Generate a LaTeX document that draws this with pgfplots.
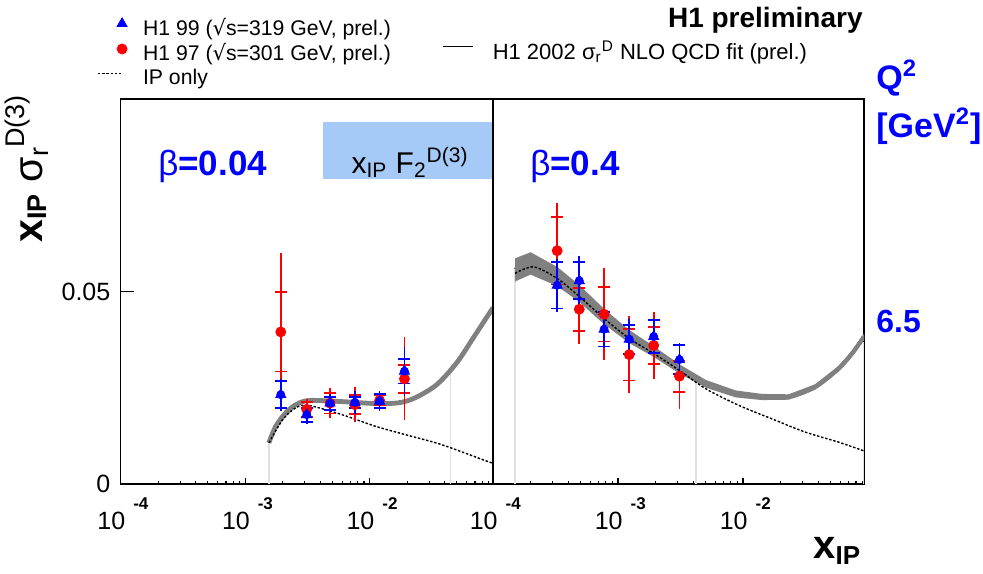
\documentclass[border=0pt]{standalone}
\usepackage{fontspec}
\setmainfont{Liberation Sans}
\newfontfamily\dejavu{DejaVu Sans}
\usepackage{pgfplots}
\pgfplotsset{compat=1.18}
\definecolor{boxblue}{RGB}{166,202,247}
\definecolor{bandgray}{RGB}{128,128,128}
\definecolor{lgray}{RGB}{225,225,225}

\newcommand{\lab}[1]{\llap{10}\hspace{4pt}\raisebox{10pt}{\fontsize{8.5}{9}\selectfont\bfseries #1}}
\newcommand{\tickfont}{\fontsize{12.5}{14}\selectfont}

\begin{document}
\begin{tikzpicture}
\path[use as bounding box] (0,0) rectangle (491.5pt,-286.5pt);

% ---------------- left panel: beta = 0.04
\begin{axis}[
  scale only axis, anchor=south west,
  at={(60.35pt,-242pt)}, width=186.15pt, height=192.5pt,
  xmode=log, xmin=1e-4, xmax=0.0977, ymin=0, ymax=0.1,
  axis line style={line width=0.75pt},
  tick align=inside, xtick pos=bottom, ytick pos=left,
  major tick length=3pt, minor tick length=1.5pt,
  tick style={black, line width=0.6pt},
  xtick={1e-4,1e-3,1e-2},
  xticklabels={\lab{-4},\lab{-3},\lab{-2}},
  minor xtick={2e-4,3e-4,4e-4,5e-4,6e-4,7e-4,8e-4,9e-4,
               2e-3,3e-3,4e-3,5e-3,6e-3,7e-3,8e-3,9e-3,
               2e-2,3e-2,4e-2,5e-2,6e-2,7e-2,8e-2,9e-2},
  xticklabel style={anchor=base west, inner sep=0pt, yshift=-22.5pt, xshift=2.1pt, font=\tickfont},
  ytick={0,0.05}, yticklabels={0,0.05},
  yticklabel style={anchor=east, inner sep=0pt, xshift=-5pt, font=\tickfont},
  legend style={at={(axis description cs:-0.0637,1.213)}, anchor=north west,
    draw=none, fill=none, inner sep=0pt, font=\fontsize{10.6}{12}\selectfont,
    legend cell align=left, row sep=2.6pt, nodes={inner sep=0pt},
    /tikz/every odd column/.append style={column sep=7.5pt}},
]
\addlegendimage{legend image code/.code={\path[draw=none,fill=none] (0pt,-3pt) rectangle (15pt,3pt);
  \fill[blue] (9.5pt,0.85pt) -- (14.5pt,0.85pt) -- (12pt,5.2pt) -- cycle;}}
\addlegendentry{H1 99 ({\dejavu √}s=319 GeV, prel.)}
\addlegendimage{legend image code/.code={\path[draw=none,fill=none] (0pt,-3pt) rectangle (15pt,3pt);
  \fill[red] (12pt,2.3pt) circle (2.5pt);}}
\addlegendentry{H1 97 ({\dejavu √}s=301 GeV, prel.)}
\addlegendimage{legend image code/.code={\path[draw=none,fill=none] (0pt,-3pt) rectangle (15pt,3pt);
  \draw[black, line width=0.7pt, dash pattern=on 1.2pt off 0.9pt] (0pt,2.3pt) -- (12.5pt,2.3pt);}}
\addlegendentry{IP only}

% kinematic limits
\addplot[lgray, line width=0.6pt, forget plot] coordinates {(1.55e-3,0) (1.55e-3,0.0107)};
\addplot[lgray, line width=0.6pt, forget plot] coordinates {(4.42e-2,0) (4.42e-2,0.029)};
\addplot[lgray, line width=0.6pt, forget plot] coordinates {(0.0965,0) (0.0965,0.045)};

% NLO QCD fit (band)
\addplot[bandgray, line width=2.4pt, smooth, forget plot] coordinates {
  (1.55e-3,0.0107) (1.76e-3,0.0150) (2.12e-3,0.0185) (2.55e-3,0.0206) (3.25e-3,0.0217)
  (6.0e-3,0.0214) (1.11e-2,0.0209) (1.71e-2,0.0211) (2.32e-2,0.0224) (3.45e-2,0.0258)
  (5.0e-2,0.0315) (6.8e-2,0.0380) (0.0977,0.0458)};

% IP only
\addplot[black, line width=0.7pt, dash pattern=on 1.2pt off 0.9pt, smooth, forget plot] coordinates {
  (1.55e-3,0.0107) (2.0e-3,0.0167) (2.55e-3,0.0198) (3.25e-3,0.0204) (6.0e-3,0.0180)
  (1.11e-2,0.0150) (2.05e-2,0.0126) (3.8e-2,0.0102) (8.95e-2,0.0058) (0.0977,0.0055)};

% H1 97: stat (with caps) and total errors
\addplot[red, only marks, mark=none, forget plot, error bars/.cd, y dir=both, y explicit,
  error bar style={line width=0.9pt},
  error mark options={rotate=90, line width=0.9pt, mark size=3pt}] coordinates {
  (1.93e-3,0.0395) +- (0,0.0103) (3.12e-3,0.0194) +- (0,0.0020) (4.8e-3,0.0210) +- (0,0.0027)
  (7.6e-3,0.0206) +- (0,0.0025) (1.2e-2,0.0217) +- (0,0.0013) (1.9e-2,0.0273) +- (0,0.0037)};
\addplot[red, only marks, mark=*, mark size=2.5pt, forget plot, error bars/.cd, y dir=both,
  y explicit, error mark=none, error bar style={line width=0.9pt}] coordinates {
  (1.93e-3,0.0395) +- (0,0.0205) (3.12e-3,0.0194) +- (0,0.0028) (4.8e-3,0.0210) +- (0,0.0039)
  (7.6e-3,0.0206) +- (0,0.0045) (1.2e-2,0.0217) +- (0,0.0018) (1.9e-2,0.0273) +- (0,0.0108)};

% H1 99
\addplot[blue, only marks, mark=none, forget plot, error bars/.cd, y dir=both, y explicit,
  error bar style={line width=0.9pt},
  error mark options={rotate=90, line width=0.9pt, mark size=3pt}] coordinates {
  (1.93e-3,0.0232) +- (0,0.0035) (3.12e-3,0.0180) +- (0,0.0018) (4.8e-3,0.0210) +- (0,0.0017)
  (7.6e-3,0.0212) +- (0,0.0015) (1.2e-2,0.0215) +- (0,0.0018) (1.9e-2,0.0293) +- (0,0.0032)};
\addplot[blue, only marks, mark=triangle*, mark size=2.9pt, forget plot, error bars/.cd,
  y dir=both, y explicit, error mark=none, error bar style={line width=0.9pt}] coordinates {
  (1.93e-3,0.0232) +- (0,0.0042) (3.12e-3,0.0180) +- (0,0.0024) (4.8e-3,0.0210) +- (0,0.0024)
  (7.6e-3,0.0212) +- (0,0.0030) (1.2e-2,0.0215) +- (0,0.0026) (1.9e-2,0.0293) +- (0,0.0064)};

\draw[line width=0.6pt] (axis cs:1e-4,0.05) -- (axis cs:1.29e-4,0.05);
\end{axis}

% ---------------- right panel: beta = 0.4
\begin{axis}[
  scale only axis, anchor=south west,
  at={(246.5pt,-242pt)}, width=185.5pt, height=192.5pt,
  xmode=log, xmin=1e-4, xmax=0.0929, ymin=0, ymax=0.1,
  axis line style={line width=0.75pt},
  tick align=inside, xtick pos=bottom, ytick pos=left,
  major tick length=3pt, minor tick length=1.5pt,
  tick style={black, line width=0.6pt},
  xtick={1e-4,1e-3,1e-2},
  xticklabels={\lab{-4},\lab{-3},\lab{-2}},
  minor xtick={2e-4,3e-4,4e-4,5e-4,6e-4,7e-4,8e-4,9e-4,
               2e-3,3e-3,4e-3,5e-3,6e-3,7e-3,8e-3,9e-3,
               2e-2,3e-2,4e-2,5e-2,6e-2,7e-2,8e-2,9e-2},
  xticklabel style={anchor=base west, inner sep=0pt, yshift=-22.5pt, xshift=2.1pt, font=\tickfont},
  ytick=\empty,
  legend style={at={(axis description cs:-0.1375,1.152)}, anchor=north west,
    draw=none, fill=none, inner sep=0pt, font=\fontsize{11}{13}\selectfont,
    legend cell align=left, nodes={inner sep=0pt},
    /tikz/every odd column/.append style={column sep=9.5pt}},
]
\addlegendimage{legend image code/.code={\path[draw=none,fill=none] (0pt,-3pt) rectangle (15pt,3pt);
  \draw[black, line width=0.7pt] (0pt,2.6pt) -- (15pt,2.6pt);}}
\addlegendentry{H1 2002 σ\textsubscript{r}\textsuperscript{D} NLO QCD fit (prel.)}

\addplot[lgray, line width=0.6pt, forget plot] coordinates {(1.5e-4,0) (1.5e-4,0.0556)};
\addplot[lgray, line width=0.6pt, forget plot] coordinates {(4.2e-3,0) (4.2e-3,0.027)};
\addplot[lgray, line width=0.6pt, forget plot] coordinates {(0.0915,0) (0.0915,0.037)};

% fit uncertainty band
\addplot[fill=bandgray, draw=none, forget plot] coordinates {
  (1.5e-4,0.0586) (2.0e-4,0.0602) (3.26e-4,0.0564) (4.9e-4,0.0517) (7.74e-4,0.0455)
  (1.23e-3,0.0400) (1.93e-3,0.0358) (3.1e-3,0.0311) (5.06e-3,0.0270) (8.75e-3,0.0243)
  (1.42e-2,0.0234) (2.32e-2,0.0233) (3.77e-2,0.0259) (5.78e-2,0.0306) (7.5e-2,0.0347)
  (0.0929,0.0390)
  (0.0929,0.0376) (7.5e-2,0.0333) (5.78e-2,0.0292) (3.77e-2,0.0245) (2.32e-2,0.0219)
  (1.42e-2,0.0218) (8.75e-3,0.0225) (5.06e-3,0.0250) (3.1e-3,0.0287) (1.93e-3,0.0330)
  (1.23e-3,0.0366) (7.74e-4,0.0415) (4.9e-4,0.0473) (3.26e-4,0.0514) (2.0e-4,0.0544)
  (1.5e-4,0.0526)};
\addplot[bandgray, line width=2.2pt, smooth, forget plot] coordinates {
  (1.5e-4,0.0556) (2.0e-4,0.0573) (3.26e-4,0.0539) (4.9e-4,0.0495) (7.74e-4,0.0435)
  (1.23e-3,0.0383) (1.93e-3,0.0344) (3.1e-3,0.0299) (5.06e-3,0.0260) (8.75e-3,0.0234)
  (1.42e-2,0.0226) (2.32e-2,0.0226) (3.77e-2,0.0252) (5.78e-2,0.0299) (7.5e-2,0.0340)
  (0.0929,0.0383)};

\addplot[black, line width=0.7pt, dash pattern=on 1.2pt off 0.9pt, smooth, forget plot] coordinates {
  (1.5e-4,0.0547) (2.11e-4,0.0564) (3.26e-4,0.0534) (4.9e-4,0.0487) (7.74e-4,0.0430)
  (1.23e-3,0.0378) (1.93e-3,0.0339) (3.1e-3,0.0295) (5.06e-3,0.0247) (9.3e-3,0.0204)
  (1.71e-2,0.0169) (3.14e-2,0.0135) (5.78e-2,0.0109) (0.0929,0.0086)};

\addplot[red, only marks, mark=none, forget plot, error bars/.cd, y dir=both, y explicit,
  error bar style={line width=0.9pt},
  error mark options={rotate=90, line width=0.9pt, mark size=3pt}] coordinates {
  (3.26e-4,0.0606) +- (0,0.0088) (4.9e-4,0.0454) +- (0,0.0056) (7.74e-4,0.0441) +- (0,0.0071)
  (1.23e-3,0.0336) +- (0,0.0067) (1.93e-3,0.0360) +- (0,0.0048) (3.1e-3,0.0280) +- (0,0.0040)};
\addplot[red, only marks, mark=*, mark size=2.5pt, forget plot, error bars/.cd, y dir=both,
  y explicit, error mark=none, error bar style={line width=0.9pt}] coordinates {
  (3.26e-4,0.0606) +- (0,0.0124) (4.9e-4,0.0454) +- (0,0.0090) (7.74e-4,0.0441) +- (0,0.0120)
  (1.23e-3,0.0336) +- (0,0.0100) (1.93e-3,0.0360) +- (0,0.0088) (3.1e-3,0.0280) +- (0,0.0085)};

\addplot[blue, only marks, mark=none, forget plot, error bars/.cd, y dir=both, y explicit,
  error bar style={line width=0.9pt},
  error mark options={rotate=90, line width=0.9pt, mark size=3pt}] coordinates {
  (3.26e-4,0.0516) +- (0,0.0060) (4.9e-4,0.0528) +- (0,0.0048) (7.74e-4,0.0402) +- (0,0.0045)
  (1.23e-3,0.0376) +- (0,0.0038) (1.93e-3,0.0383) +- (0,0.0042) (3.1e-3,0.0323) +- (0,0.0038)};
\addplot[blue, only marks, mark=triangle*, mark size=2.9pt, forget plot, error bars/.cd,
  y dir=both, y explicit, error mark=none, error bar style={line width=0.9pt}] coordinates {
  (3.26e-4,0.0516) +- (0,0.0068) (4.9e-4,0.0528) +- (0,0.0064) (7.74e-4,0.0402) +- (0,0.0050)
  (1.23e-3,0.0376) +- (0,0.0052) (1.93e-3,0.0383) +- (0,0.0046) (3.1e-3,0.0323) +- (0,0.0042)};
\end{axis}

% ---------------- texts (coordinates in pixels of the reference, y downwards)
\begin{scope}[x=0.5pt, y=-0.5pt]
\fill[boxblue] (322.7,122) rectangle (491.5,179);
\node[anchor=base, inner sep=0pt] at (410,173)
  {\fontsize{15}{17}\selectfont x\textsubscript{IP} F\textsubscript{2}\textsuperscript{D(3)}};
\node[anchor=base west, inner sep=0pt, blue] at (158,175)
  {\fontsize{17.5}{20}\selectfont β\bfseries =0.04};
\node[anchor=base west, inner sep=0pt, blue] at (530,175)
  {\fontsize{17.5}{20}\selectfont β\bfseries =0.4};
\node[anchor=base east, inner sep=0pt] at (863,27)
  {\fontsize{14}{16}\selectfont\bfseries H1 preliminary};
\node[anchor=base west, inner sep=0pt, blue] at (876,89)
  {\fontsize{17}{19}\selectfont\bfseries Q\textsuperscript{2}};
\node[anchor=base west, inner sep=0pt, blue] at (876,137)
  {\fontsize{17}{19}\selectfont\bfseries [GeV\textsuperscript{2}]};
\node[anchor=base west, inner sep=0pt, blue] at (876,332)
  {\fontsize{16}{18}\selectfont\bfseries 6.5};
\node[anchor=base west, inner sep=0pt] at (813,558)
  {\fontsize{20}{24}\selectfont\bfseries x\raisebox{-3pt}{\fontsize{13}{15}\selectfont IP}};
\node[rotate=90, anchor=base, inner sep=0pt] at (42,169)
  {\fontsize{20.5}{24}\selectfont\bfseries x\raisebox{-2pt}{\fontsize{13.5}{15}\selectfont IP}\hspace{6pt}%
   \mdseries σ\raisebox{-3pt}{\fontsize{13.5}{15}\selectfont r}\raisebox{9pt}{\fontsize{13.5}{15}\selectfont D(3)}};
\end{scope}
\end{tikzpicture}
\end{document}
